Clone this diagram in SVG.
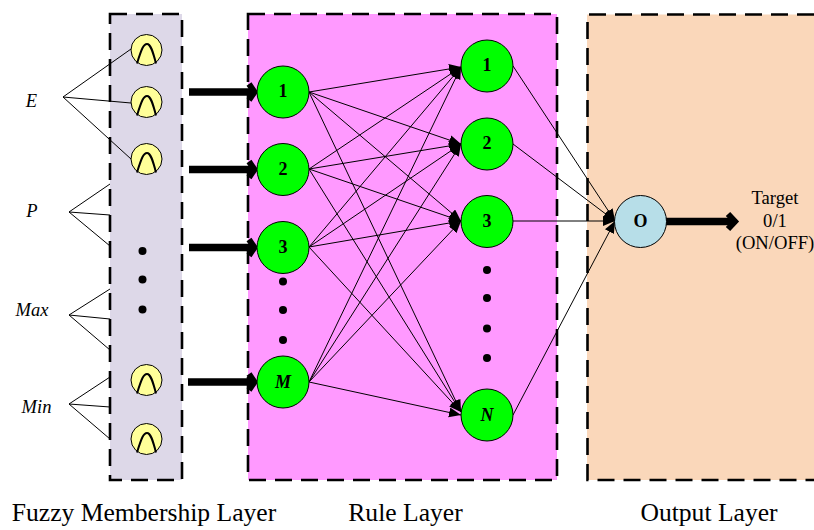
<svg xmlns="http://www.w3.org/2000/svg" xmlns:xlink="http://www.w3.org/1999/xlink" width="814" height="530" viewBox="0 0 814 530">
<style>
text{font-family:"Liberation Serif","Times New Roman",serif;fill:#000}
.panel{stroke:none}
.dash{fill:none;stroke:#000;stroke-width:2.6;stroke-dasharray:17 9}
.n{stroke:#000;stroke-width:1}
.g{fill:#00ff00}
.y{fill:#ffff99}
.lbl{font-size:18px;font-weight:bold;text-anchor:middle}
.it{font-style:italic;font-size:18.5px;text-anchor:middle}
.cap{font-size:25.6px;text-anchor:middle}
.t{font-size:18.6px;text-anchor:middle}
.fan{fill:none;stroke:#000;stroke-width:1}
.c{fill:none;stroke:#000;stroke-width:1;marker-end:url(#ah)}
.thick{fill:none;stroke:#000;stroke-width:7.500}
.chev{fill:none;stroke:#000;stroke-width:6}
.bell{fill:none;stroke:#000;stroke-width:2}
</style>
<defs>
<marker id="ah" markerUnits="userSpaceOnUse" markerWidth="14" markerHeight="12" refX="12" refY="5" orient="auto"><path d="M0,0L12,5L0,10z" fill="#000"/></marker>
<g id="bell"><path class="bell" d="M-9.5,13.5C-5,-1 -3,-6 0.5,-6C4,-6 6,0 9.5,13.5"/></g>
</defs>
<g id="panels">
<rect class="panel" x="110" y="14" width="72" height="466" fill="#ddd8e8"/>
<rect class="panel" x="248" y="14" width="309" height="466" fill="#ff99ff"/>
<rect class="panel" x="587" y="14.500" width="227" height="465.500" fill="#fad7ba"/>
<rect class="dash" x="110" y="14" width="72" height="466"/>
<rect class="dash" x="248" y="14" width="309" height="466"/>
<path class="dash" d="M814,14.500H587.500V480H814"/>
</g>
<g id="connectors">
<path class="fan" d="M63,97L131,49M63,97L131,103M63,97L131,159M69,212L110,184M69,212L110,215M69,212L110,246M69,315L110,289M69,315L110,319M69,315L110,350M69,404L110,377M69,404L110,407M69,404L110,439"/>
<path class="c" d="M309,92L461,67"/><path class="c" d="M309,92L461,144"/><path class="c" d="M309,92L461,221"/><path class="c" d="M309,92L461,412"/>
<path class="c" d="M309,169L461,67"/><path class="c" d="M309,169L461,144"/><path class="c" d="M309,169L461,221"/><path class="c" d="M309,169L461,412"/>
<path class="c" d="M309,247L461,67"/><path class="c" d="M309,247L461,144"/><path class="c" d="M309,247L461,221"/><path class="c" d="M309,247L461,412"/>
<path class="c" d="M309,382L461,67"/><path class="c" d="M309,382L461,144"/><path class="c" d="M309,382L461,221"/><path class="c" d="M309,382L461,415"/>
<path class="c" d="M513,66L615,221"/><path class="c" d="M513,144L615,221"/><path class="c" d="M513,221L615,221"/><path class="c" d="M513,415L615,221"/>
<path class="thick" d="M189,92H255M189,169.500H255M189,247.500H255M188,382H255M666,221.500H735"/>
<path class="chev" d="M249,84L254.500,92L249,100M249,161.500L254.500,169.500L249,177.500M249,239.500L254.500,247.500L249,255.500M249,374L254.500,382L249,390M728,214L735,221.500L728,229"/>
</g>
<g id="fuzzy-1"><circle class="n y" cx="146.500" cy="50" r="15.500"/><use xlink:href="#bell" href="#bell" x="146.500" y="50"/></g>
<g id="fuzzy-2"><circle class="n y" cx="146.500" cy="102" r="15.500"/><use xlink:href="#bell" href="#bell" x="146.500" y="102"/></g>
<g id="fuzzy-3"><circle class="n y" cx="146.500" cy="159" r="15.500"/><use xlink:href="#bell" href="#bell" x="146.500" y="159"/></g>
<g id="fuzzy-4"><circle class="n y" cx="146.500" cy="380" r="15.500"/><use xlink:href="#bell" href="#bell" x="146.500" y="380"/></g>
<g id="fuzzy-5"><circle class="n y" cx="146.500" cy="439" r="15.500"/><use xlink:href="#bell" href="#bell" x="146.500" y="439"/></g>
<g id="dots" fill="#000">
<circle cx="142.500" cy="251" r="4"/><circle cx="142.500" cy="279.500" r="4"/><circle cx="142.500" cy="309.500" r="4"/>
<circle cx="283" cy="281.500" r="4"/><circle cx="283" cy="310" r="4"/><circle cx="283" cy="340" r="4"/>
<circle cx="487" cy="270" r="4"/><circle cx="487" cy="298" r="4"/><circle cx="487" cy="328.500" r="4"/><circle cx="487" cy="358" r="4"/>
</g>
<g id="rule-in-1"><circle class="n g" cx="283" cy="92" r="26"/><text class="lbl" x="283" y="97">1</text></g>
<g id="rule-in-2"><circle class="n g" cx="283" cy="169.500" r="26"/><text class="lbl" x="283" y="175">2</text></g>
<g id="rule-in-3"><circle class="n g" cx="283" cy="247.500" r="26"/><text class="lbl" x="283" y="253">3</text></g>
<g id="rule-in-m"><circle class="n g" cx="283" cy="382" r="26"/><text class="lbl" x="283" y="388" font-style="italic">M</text></g>
<g id="rule-out-1"><circle class="n g" cx="487" cy="66" r="26"/><text class="lbl" x="487" y="71">1</text></g>
<g id="rule-out-2"><circle class="n g" cx="487" cy="144" r="26"/><text class="lbl" x="487" y="149">2</text></g>
<g id="rule-out-3"><circle class="n g" cx="487" cy="221.500" r="26"/><text class="lbl" x="487" y="227">3</text></g>
<g id="rule-out-n"><circle class="n g" cx="487" cy="415" r="26"/><text class="lbl" x="487" y="421" font-style="italic">N</text></g>
<g id="output"><circle class="n" fill="#b7dee8" cx="640.500" cy="221.500" r="26"/><text class="lbl" x="640.500" y="227">O</text></g>
<g id="labels">
<text class="it" x="31.500" y="107">E</text>
<text class="it" x="32" y="217">P</text>
<text class="it" x="32" y="316">Max</text>
<text class="it" x="36.500" y="413">Min</text>
<text class="t" x="775" y="204">Target</text>
<text class="t" x="775" y="227">0/1</text>
<text class="t" x="775" y="249">(ON/OFF)</text>
<text class="cap" x="144" y="521">Fuzzy Membership Layer</text>
<text class="cap" x="405.500" y="521">Rule Layer</text>
<text class="cap" x="709" y="521">Output Layer</text>
</g>
</svg>
